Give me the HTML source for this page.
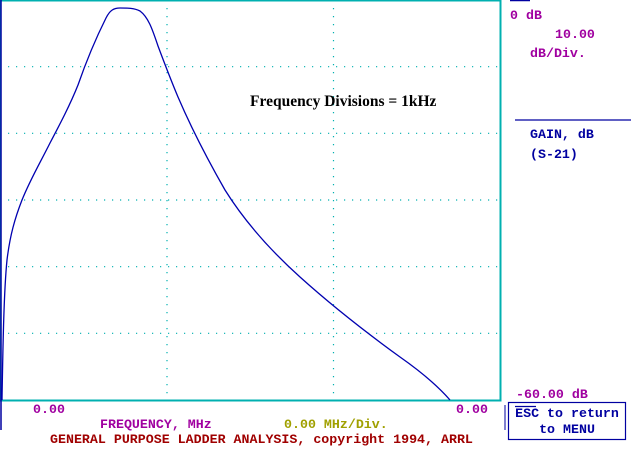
<!DOCTYPE html>
<html><head><style>
html,body{margin:0;padding:0;background:#fff;width:633px;height:451px;overflow:hidden}
svg{display:block}
.m{font-family:"Liberation Mono",monospace;font-size:13.3px;font-weight:bold}
</style></head><body>
<svg width="633" height="451" xmlns="http://www.w3.org/2000/svg">
<rect x="0.5" y="0.5" width="500" height="400" fill="none" stroke="#00b0b0" stroke-width="2"/>
<g stroke="#00b0b0" stroke-width="1.2" stroke-dasharray="1.2,6.8">
<line x1="8" y1="66.7" x2="500" y2="66.7"/>
<line x1="8" y1="133.3" x2="500" y2="133.3"/>
<line x1="8" y1="200" x2="500" y2="200"/>
<line x1="8" y1="266.7" x2="500" y2="266.7"/>
<line x1="8" y1="333.3" x2="500" y2="333.3"/>
<line x1="167" y1="8" x2="167" y2="400"/>
<line x1="333.5" y1="8" x2="333.5" y2="400"/>
</g>
<line x1="1" y1="0" x2="1" y2="430" stroke="#0000a0" stroke-width="1.5"/>
<line x1="505" y1="405" x2="505" y2="430" stroke="#0000a0" stroke-width="1"/>
<path d="M2,400 C3,340 4,290 7,260 C10,235 15,218 22,200 C30,180 40,163 50,143 C60,124 70,105 78,85 C86,62 96,38 106,18 C110,10 114,8 120,8 C128,8 134,8 140,11 C148,17 152,28 158,46 C164,62 170,78 178,97 C190,125 205,155 225,190 C245,222 270,250 300,277 C330,304 360,328 400,357 C420,371 436,384 450,400" fill="none" stroke="#0000b0" stroke-width="1.3" stroke-linejoin="round"/>
<text x="250" y="106" font-family="Liberation Serif,serif" font-weight="bold" font-size="15.5">Frequency Divisions = 1kHz</text>
<line x1="510" y1="0.5" x2="530" y2="0.5" stroke="#0000a0" stroke-width="1.5"/>
<text x="510" y="19" class="m" fill="#a000a0">0 dB</text>
<text x="555" y="38" class="m" fill="#a000a0">10.00</text>
<text x="530" y="57" class="m" fill="#a000a0">dB/Div.</text>
<line x1="515" y1="120" x2="631" y2="120" stroke="#0000a0" stroke-width="1.2"/>
<text x="530" y="138" class="m" fill="#0000a0">GAIN, dB</text>
<text x="530" y="158" class="m" fill="#0000a0">(S-21)</text>
<text x="516" y="398" class="m" fill="#a000a0">-60.00 dB</text>
<line x1="515" y1="406.5" x2="536" y2="406.5" stroke="#0000a0" stroke-width="1.2"/>
<rect x="508.5" y="402.5" width="117" height="37" fill="none" stroke="#0000a0" stroke-width="1.2"/>
<text x="567" y="417" class="m" fill="#0000a0" text-anchor="middle">ESC to return</text>
<text x="567" y="433" class="m" fill="#0000a0" text-anchor="middle">to MENU</text>
<text x="33" y="413" class="m" fill="#a000a0">0.00</text>
<text x="456" y="413" class="m" fill="#a000a0">0.00</text>
<text x="100" y="428" class="m" fill="#a000a0">FREQUENCY, MHz</text>
<text x="284" y="428" class="m" fill="#a0a000">0.00 MHz/Div.</text>
<text x="50" y="443" class="m" fill="#a00000">GENERAL PURPOSE LADDER ANALYSIS, copyright 1994, ARRL</text>
</svg>
</body></html>
